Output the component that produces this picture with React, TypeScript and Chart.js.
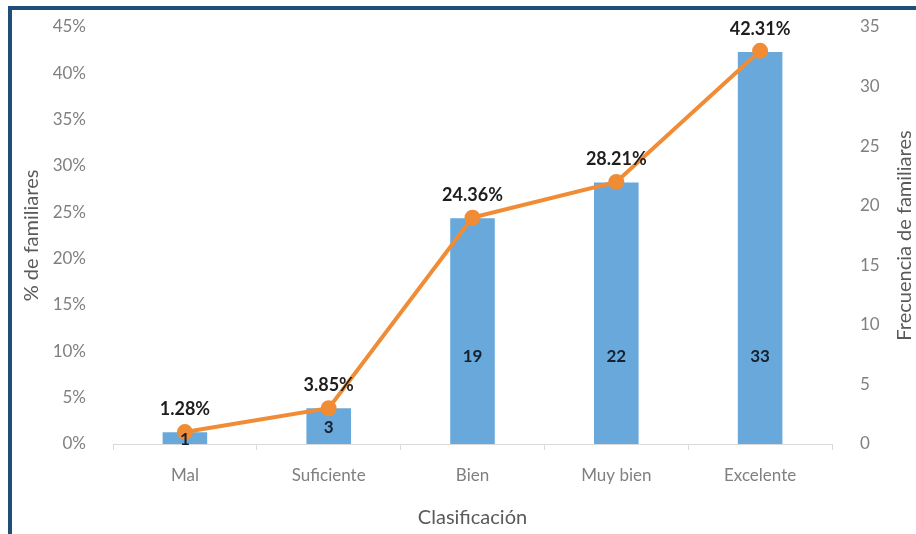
import React, { useEffect, useRef } from "react";
import { Chart, registerables } from "chart.js";

Chart.register(...registerables);

const categories = ["Mal", "Suficiente", "Bien", "Muy bien", "Excelente"];
const percentValues = [1.28, 3.85, 24.36, 28.21, 42.31];
const frequencyValues = [1, 3, 19, 22, 33];
const percentLabels = ["1.28%", "3.85%", "24.36%", "28.21%", "42.31%"];
const xTitle = "Clasificación";
const yLeftTitle = "% de familiares";
const yRightTitle = "Frecuencia de familiares";

const FONT = "Lato, 'Open Sans', sans-serif";
const TICK_COLOR = "#808080";
const TITLE_COLOR = "#5a5a5a";

const labelPlugin = {
  id: "customLabels",
  afterDraw(chart: any) {
    const ctx = chart.ctx;
    const area = chart.chartArea;
    const barMeta = chart.getDatasetMeta(0);
    ctx.save();
    // percentage labels above bars
    ctx.font = `bold 18px ${FONT}`;
    ctx.fillStyle = "#1e1e1e";
    ctx.textAlign = "center";
    ctx.textBaseline = "middle";
    barMeta.data.forEach((bar: any, i: number) => {
      ctx.fillText(percentLabels[i], bar.x, bar.y - 23);
    });
    // frequency labels inside bars
    ctx.font = `bold 17px ${FONT}`;
    ctx.fillStyle = "#17202e";
    barMeta.data.forEach((bar: any, i: number) => {
      const base = bar.base;
      const h = base - bar.y;
      const y = h < 100 ? (bar.y + base) / 2 : base - 88;
      ctx.fillText(String(frequencyValues[i]), bar.x, y + 1);
    });
    // axis titles
    ctx.font = `20px ${FONT}`;
    ctx.fillStyle = TITLE_COLOR;
    const midY = (area.top + area.bottom) / 2;
    ctx.save();
    ctx.translate(32, midY);
    ctx.rotate(-Math.PI / 2);
    ctx.fillText(yLeftTitle, 0, 0);
    ctx.restore();
    ctx.save();
    ctx.translate(905, midY);
    ctx.rotate(-Math.PI / 2);
    ctx.fillText(yRightTitle, 0, 0);
    ctx.restore();
    ctx.fillText(xTitle, (area.left + area.right) / 2, 518);
    ctx.restore();
  },
};

export default function App() {
  const canvasRef = useRef<HTMLCanvasElement | null>(null);

  useEffect(() => {
    if (!canvasRef.current) return;
    const chart = new Chart(canvasRef.current, {
      type: "bar",
      data: {
        labels: categories,
        datasets: [
          {
            type: "bar",
            label: "% de familiares",
            data: percentValues,
            backgroundColor: "#68A8DB",
            yAxisID: "y",
            order: 2,
            barPercentage: 0.31,
            categoryPercentage: 1,
          },
          {
            type: "line",
            label: "Frecuencia",
            data: frequencyValues,
            borderColor: "#F08C35",
            backgroundColor: "#F08C35",
            borderWidth: 4,
            pointRadius: 6,
            pointBackgroundColor: "#F08C35",
            pointBorderColor: "#F08C35",
            yAxisID: "y1",
            order: 1,
            tension: 0,
          } as any,
        ],
      },
      options: {
        animation: false,
        responsive: true,
        maintainAspectRatio: false,
        layout: { padding: { top: 27, left: 0, right: 0, bottom: 0 } },
        plugins: {
          legend: { display: false },
          tooltip: { enabled: false },
        },
        scales: {
          x: {
            offset: true,
            grid: {
              display: true,
              drawOnChartArea: false,
              drawTicks: true,
              tickLength: 6,
              color: "#d9d9d9",
              offset: true,
            },
            border: { display: true, color: "#d9d9d9", width: 1 },
            ticks: {
              color: TICK_COLOR,
              font: { family: FONT, size: 17 },
              padding: 15,
              maxRotation: 0,
            },
            afterFit: (s: any) => {
              s.height = 90;
              s.paddingLeft = 0;
              s.paddingRight = 0;
            },
          },
          y: {
            position: "left",
            min: 0,
            max: 45,
            grid: { display: false },
            border: { display: false },
            ticks: {
              stepSize: 5,
              color: TICK_COLOR,
              font: { family: FONT, size: 17 },
              padding: 19,
              callback: (v: any) => `${v}%`,
            },
            afterFit: (s: any) => {
              s.width = 113;
              s.paddingTop = 0;
              s.paddingBottom = 0;
            },
          },
          y1: {
            position: "right",
            min: 0,
            max: 35,
            grid: { display: false },
            border: { display: false },
            ticks: {
              stepSize: 5,
              color: TICK_COLOR,
              font: { family: FONT, size: 17 },
              padding: 20,
            },
            afterFit: (s: any) => {
              s.width = 84;
              s.paddingTop = 0;
              s.paddingBottom = 0;
            },
          },
        },
      },
      plugins: [labelPlugin],
    });
    return () => chart.destroy();
  }, []);

  return (
    <div style={{ position: "absolute", left: 0, top: 0, width: 916, height: 534, background: "#fff" }}>
      <canvas ref={canvasRef} />
      <div
        style={{
          position: "absolute",
          left: 8,
          top: 6,
          width: 905,
          height: 528,
          borderLeft: "4px solid #1F4E79",
          borderTop: "4px solid #1F4E79",
          pointerEvents: "none",
        }}
      />
    </div>
  );
}
